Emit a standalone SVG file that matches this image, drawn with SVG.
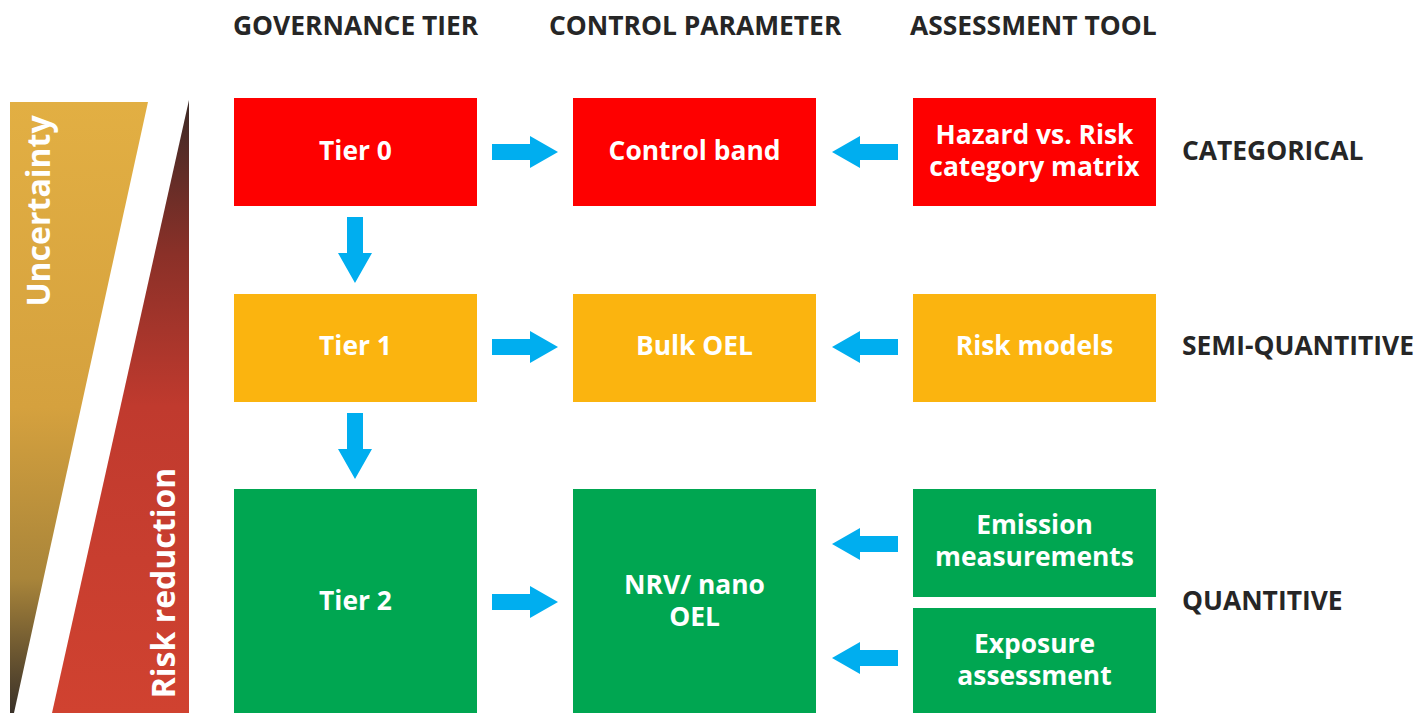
<svg xmlns="http://www.w3.org/2000/svg" width="1418" height="713" viewBox="0 0 1418 713">
<style>
.hdr{font-family:"Open Sans","Liberation Sans",sans-serif;font-weight:bold;font-size:26.4px;fill:#262626;}
.lbl{font-family:"Open Sans","Liberation Sans",sans-serif;font-weight:bold;font-size:26.4px;fill:#262626;dominant-baseline:central;}
.bt{font-family:"Open Sans","Liberation Sans",sans-serif;font-weight:bold;font-size:26.4px;fill:#ffffff;text-anchor:middle;dominant-baseline:central;}
.side{font-family:"Open Sans","Liberation Sans",sans-serif;font-weight:bold;font-size:32px;fill:#ffffff;text-anchor:middle;dominant-baseline:central;}
.red{fill:#FE0000;}
.org{fill:#FBB40F;}
.grn{fill:#00A651;}
.arr{fill:#00AEEF;}
</style>
<defs>
<linearGradient id="gU" x1="0" y1="0" x2="0" y2="1">
<stop offset="0" stop-color="#E2AF43"/>
<stop offset="0.5" stop-color="#D5A13E"/>
<stop offset="0.78" stop-color="#A9853A"/>
<stop offset="1" stop-color="#3A3129"/>
</linearGradient>
<linearGradient id="gR" x1="0" y1="0" x2="0" y2="1">
<stop offset="0" stop-color="#3C2A26"/>
<stop offset="0.25" stop-color="#8A3028"/>
<stop offset="0.5" stop-color="#C03A2E"/>
<stop offset="1" stop-color="#D04230"/>
</linearGradient>
</defs>
<g id="headers">
<text class="hdr" x="233" y="35">GOVERNANCE TIER</text>
<text class="hdr" x="549" y="35">CONTROL PARAMETER</text>
<text class="hdr" x="910" y="35">ASSESSMENT TOOL</text>
</g>
<g id="uncertainty">
<polygon points="10,102 148,102 14,713 10,713" fill="url(#gU)"/>
<text class="side" transform="translate(37,211) rotate(-90)">Uncertainty</text>
</g>
<g id="risk-reduction">
<polygon points="189,100 189,713 52,713" fill="url(#gR)"/>
<text class="side" transform="translate(162,583) rotate(-90)">Risk reduction</text>
</g>
<g id="tier0"><rect class="red" x="234" y="98" width="243" height="108"/><text class="bt" x="355.5" y="150">Tier 0</text></g>
<g id="control-band"><rect class="red" x="573" y="98" width="243" height="108"/><text class="bt" x="694.5" y="150">Control band</text></g>
<g id="hazard-matrix"><rect class="red" x="913" y="98" width="243" height="108"/><text class="bt" x="1034.5" y="134">Hazard vs. Risk<tspan x="1034.5" dy="32">category matrix</tspan></text></g>
<g id="tier1"><rect class="org" x="234" y="294" width="243" height="108"/><text class="bt" x="355.5" y="345">Tier 1</text></g>
<g id="bulk-oel"><rect class="org" x="573" y="294" width="243" height="108"/><text class="bt" x="694.5" y="345">Bulk OEL</text></g>
<g id="risk-models"><rect class="org" x="913" y="294" width="243" height="108"/><text class="bt" x="1034.5" y="345">Risk models</text></g>
<g id="tier2"><rect class="grn" x="234" y="489" width="243" height="224"/><text class="bt" x="355.5" y="600">Tier 2</text></g>
<g id="nrv-oel"><rect class="grn" x="573" y="489" width="243" height="224"/><text class="bt" x="694.5" y="584">NRV/ nano<tspan x="694.5" dy="32">OEL</tspan></text></g>
<g id="emission"><rect class="grn" x="913" y="489" width="243" height="108"/><text class="bt" x="1034.5" y="524">Emission<tspan x="1034.5" dy="32">measurements</tspan></text></g>
<g id="exposure"><rect class="grn" x="913" y="608" width="243" height="105"/><text class="bt" x="1034.5" y="643">Exposure<tspan x="1034.5" dy="32">assessment</tspan></text></g>
<g id="categories">
<text class="lbl" x="1182" y="150">CATEGORICAL</text>
<text class="lbl" x="1182" y="345">SEMI-QUANTITIVE</text>
<text class="lbl" x="1182" y="600">QUANTITIVE</text>
</g>
<g id="connectors">
<polygon class="arr" points="492,144 530,144 530,136 558,152 530,168 530,160 492,160"/>
<polygon class="arr" points="492,339 530,339 530,331 558,347 530,363 530,355 492,355"/>
<polygon class="arr" points="492,594 530,594 530,586 558,602 530,618 530,610 492,610"/>
<polygon class="arr" points="898,144 860,144 860,136 832,152 860,168 860,160 898,160"/>
<polygon class="arr" points="898,339 860,339 860,331 832,347 860,363 860,355 898,355"/>
<polygon class="arr" points="898,536 860,536 860,528 832,544 860,560 860,552 898,552"/>
<polygon class="arr" points="898,650 860,650 860,642 832,658 860,674 860,666 898,666"/>
<polygon class="arr" points="347,217 363,217 363,253 372,253 355,283 338,253 347,253"/>
<polygon class="arr" points="347,413 363,413 363,449 372,449 355,479 338,449 347,449"/>
</g>
</svg>
